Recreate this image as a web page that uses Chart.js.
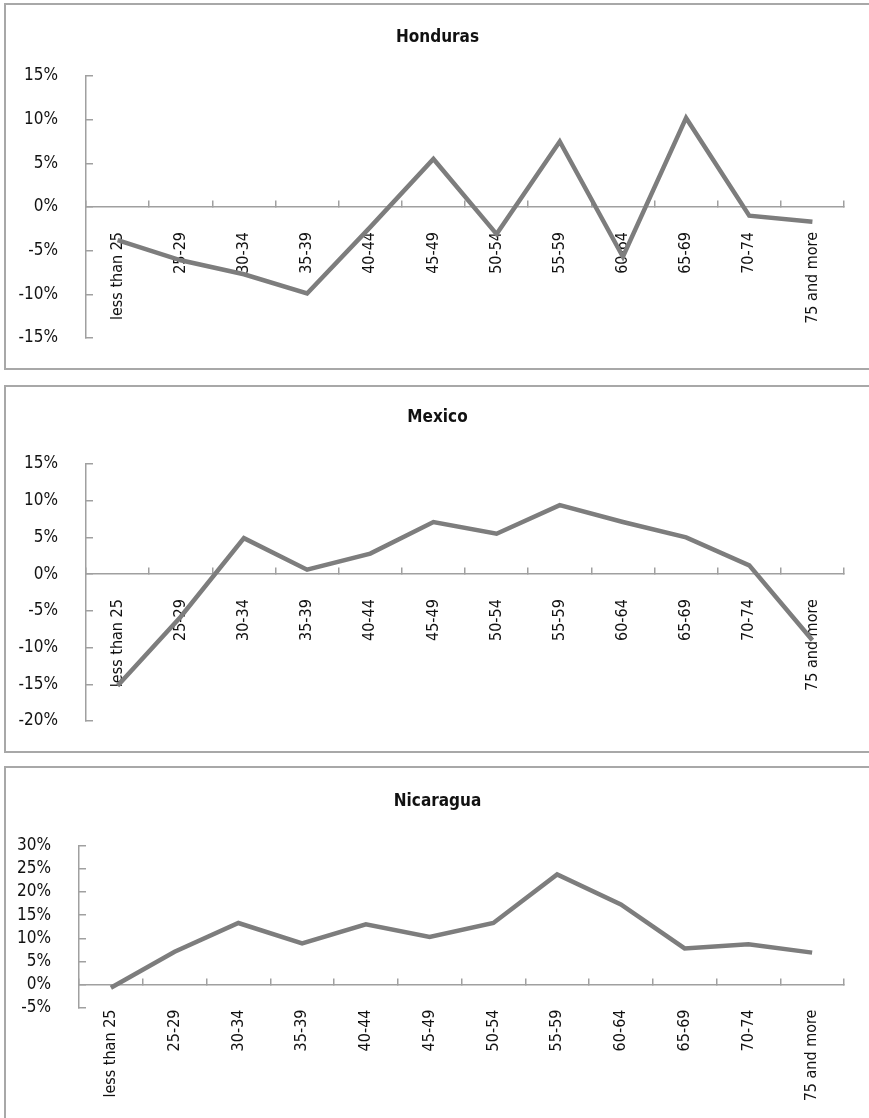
<!DOCTYPE html>
<html>
<head>
<meta charset="utf-8">
<script src="https://cdn.jsdelivr.net/npm/chart.js@4.4.1/dist/chart.umd.min.js"></script>
<style>
  html, body { margin: 0; background: #fff; overflow: hidden; }
  body { width: 869px; height: 1118px; position: relative; }
  .box { position: absolute; left: 4px; width: 1000px; border: 2px solid #a8a8a8; box-sizing: border-box; }
  canvas { position: absolute; left: 6px; }
</style>
</head>
<body>
<div class="box" style="top:3px;height:367px"></div>
<div class="box" style="top:385px;height:368px"></div>
<div class="box" style="top:766px;height:400px"></div>
<canvas id="honduras" width="863" height="361" style="top:6px"></canvas>
<canvas id="mexico" width="863" height="362" style="top:387px"></canvas>
<canvas id="nicaragua" width="863" height="350" style="top:768px"></canvas>
<script>
const ageGroups = ['less than 25', '25-29', '30-34', '35-39', '40-44', '45-49', '50-54', '55-59', '60-64', '65-69', '70-74', '75 and more'];

// change in %
const honduras = [-3.8, -6.1, -7.7, -9.9, -2.3, 5.5, -3.1, 7.5, -5.7, 10.2, -1.0, -1.7];
const mexico = [-15.2, -5.8, 4.9, 0.6, 2.8, 7.1, 5.5, 9.4, 7.1, 5.0, 1.2, -9.0];
const nicaragua = [-0.7, 7.1, 13.3, 8.9, 13.0, 10.3, 13.3, 23.8, 17.3, 7.8, 8.7, 6.9];

const hondurasTicks = [-15, 15];
const mexicoTicks = [-20, 15];
const nicaraguaTicks = [-5, 30];

const fontFamily = "'DejaVu Sans Condensed', 'Liberation Sans Narrow', sans-serif";
const axisColor = '#a0a0a0';

function makeChart(id, title, values, range, opts) {
  const ctx = document.getElementById(id).getContext('2d');
  return new Chart(ctx, {
    type: 'line',
    data: {
      labels: ageGroups,
      datasets: [{
        data: values,
        borderColor: '#7d7d7d',
        borderWidth: 4.5,
        pointRadius: 0,
        tension: 0,
        fill: false
      }]
    },
    options: {
      responsive: false,
      animation: false,
      layout: { padding: { top: 0, left: 0, right: 0, bottom: opts.bottom } },
      plugins: {
        legend: { display: false },
        tooltip: { enabled: false },
        title: {
          display: true,
          text: title,
          color: '#111',
          font: { family: fontFamily, size: 17, weight: 'bold', lineHeight: 1.2 },
          padding: { top: opts.titleTop, bottom: opts.titleBottom }
        }
      },
      scales: {
        x: {
          type: 'category',
          position: { y: 0 },
          offset: true,
          grid: { display: true, offset: true, drawOnChartArea: false, drawTicks: true, tickLength: -7, color: axisColor, lineWidth: 1.5 },
          border: { display: true, color: axisColor, width: 1.5 },
          ticks: {
            autoSkip: false,
            minRotation: 90,
            maxRotation: 90,
            padding: 32,
            color: '#111',
            font: { family: fontFamily, size: 16 }
          },
          // labels hang below the zero line, so the axis takes no room of its own;
          // the right padding leaves the empty strip right of the plot
          afterFit: scale => {
            scale.height = 0;
            scale.paddingLeft = 0;
            scale.paddingRight = 25;
          }
        },
        y: {
          position: 'left',
          min: range[0],
          max: range[1],
          grid: { display: true, drawOnChartArea: false, drawTicks: true, tickLength: -7, color: axisColor, lineWidth: 1.5 },
          border: { display: true, color: axisColor, width: 1.5 },
          ticks: {
            stepSize: 5,
            autoSkip: false,
            padding: 35,
            color: '#111',
            font: { family: fontFamily, size: 17 },
            callback: v => v + '%'
          },
          afterFit: scale => {
            scale.width = opts.yWidth;
            scale.paddingTop = 0;
            scale.paddingBottom = 0;
          }
        }
      }
    }
  });
}

// titleTop / titleBottom place the heading and the top of the plot like the original
makeChart('honduras', 'Honduras', honduras, hondurasTicks, { bottom: 29, titleTop: 21.8, titleBottom: 27.8, yWidth: 80 });
makeChart('mexico', 'Mexico', mexico, mexicoTicks, { bottom: 28, titleTop: 20.8, titleBottom: 35.8, yWidth: 80 });
makeChart('nicaragua', 'Nicaragua', nicaragua, nicaraguaTicks, { bottom: 110.3, titleTop: 23.8, titleBottom: 33.5, yWidth: 73 });
</script>
</body>
</html>
